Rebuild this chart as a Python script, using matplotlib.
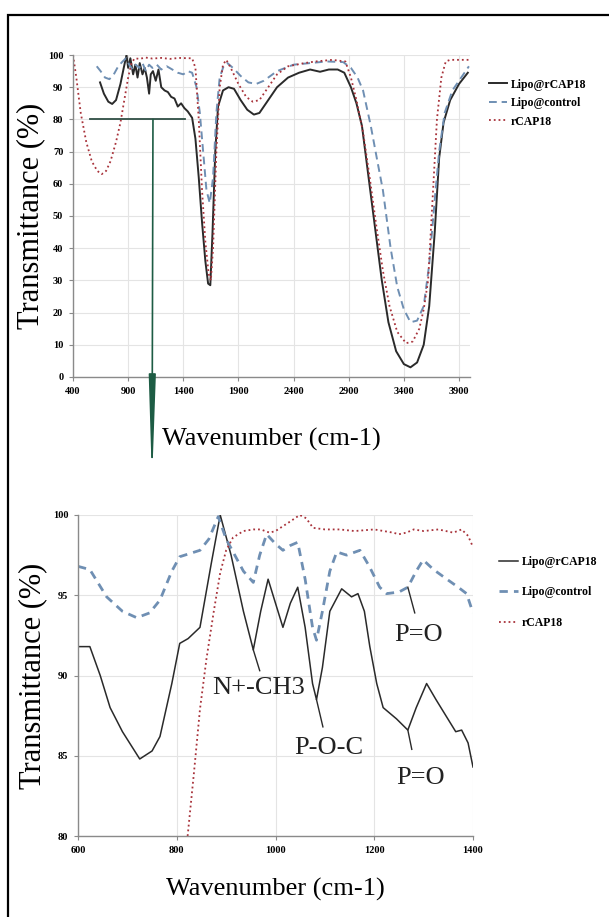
import matplotlib
matplotlib.use('Agg')
import matplotlib.pyplot as plt
from matplotlib.patches import Rectangle

plt.rcParams['font.family'] = ['Liberation Serif', 'DejaVu Serif']

# full spectrum (top panel)
wn_lipo = [645, 680, 720, 755, 790, 830, 860, 885, 900, 920, 945, 965, 985, 1005, 1030, 1050,
           1070, 1090, 1105, 1125, 1150, 1175, 1200, 1230, 1260, 1290, 1320, 1350, 1380, 1410,
           1440, 1480, 1510, 1540, 1570, 1600, 1625, 1645, 1665, 1690, 1715, 1760, 1810, 1860,
           1920, 1980, 2040, 2090, 2150, 2250, 2350, 2450, 2550, 2640, 2720, 2800, 2860, 2920,
           2970, 3020, 3080, 3140, 3200, 3260, 3330, 3400, 3460, 3520, 3580, 3630, 3680, 3720,
           3760, 3820, 3900, 3980]
t_lipo = [91.5, 88, 85.5, 84.8, 86, 91, 96, 100, 96, 99, 94, 97, 93, 97.5, 94, 96,
          93, 88, 94, 95, 92, 95.5, 90, 89, 88.5, 87, 86.5, 84, 85, 83.5,
          82.5, 80.5, 74, 62, 48, 36, 29, 28.5, 45, 70, 84, 89, 90, 89.5,
          86, 83, 81.5, 82, 85, 90, 93, 94.5, 95.5, 94.8, 95.5, 95.5, 94.5, 90,
          85, 78, 62, 46, 30, 17, 8, 4, 3, 4.5, 10, 22, 45, 68,
          79, 86, 91, 94.5]

wn_ctrl = [615, 650, 690, 730, 770, 810, 850, 880, 910, 940, 970, 1000, 1030, 1060, 1090, 1120,
           1160, 1200, 1250, 1300, 1350, 1400, 1440, 1480, 1520, 1550, 1580, 1610, 1640, 1670,
           1700, 1730, 1770, 1800, 1850, 1920, 1990, 2060, 2130, 2250, 2400, 2550, 2700, 2850,
           2920, 2980, 3030, 3100, 3160, 3210, 3280, 3340, 3400, 3460, 3520, 3580, 3630, 3680,
           3720, 3770, 3840, 3920, 3990]
t_ctrl = [96.5, 95, 93, 92.5, 94, 96.5, 98, 99, 97, 95.5, 97, 96, 97.5, 95, 97, 96,
          97, 95.5, 96.5, 95.5, 94.5, 94, 95, 94.5, 90, 82, 70, 58, 54, 62,
          82, 93, 97, 97.5, 96, 93.5, 91.5, 91, 92, 95, 97, 97.5, 98, 97.8,
          96, 93, 89, 78, 67, 58, 40, 28, 21, 17, 17.5, 22, 35, 55,
          70, 82, 89, 93, 96.5]

wn_rcap = [400, 430, 470, 520, 570, 620, 660, 700, 740, 790, 830, 870, 900, 930, 960, 1000,
           1060, 1120, 1200, 1280, 1360, 1440, 1480, 1510, 1540, 1570, 1600, 1630, 1650, 1670,
           1700, 1730, 1760, 1790, 1830, 1900, 1970, 2030, 2090, 2150, 2250, 2350, 2500, 2600,
           2750, 2870, 2920, 2970, 3030, 3090, 3150, 3210, 3270, 3340, 3420, 3480, 3540, 3580,
           3620, 3660, 3700, 3740, 3780, 3820, 3900, 4000]
t_rcap = [100, 93, 82, 73, 67, 64, 63, 64, 67, 73, 79, 87, 93, 97.5, 99, 98.8,
          99.2, 98.9, 99.1, 98.8, 99.1, 99, 99, 96, 80, 58, 42, 32, 30, 40,
          70, 90, 97, 98.5, 96, 91, 87, 85.5, 86, 89, 94, 96.5, 97.5, 98,
          98.5, 98, 93, 86, 76, 62, 47, 33, 22, 14, 10.5, 11, 15, 21,
          30, 55, 80, 93, 98, 98.5, 98.5, 98.5]

# fingerprint region (bottom panel)
wn2_lipo = [600, 624, 645, 665, 690, 725, 750, 766, 790, 806, 823, 847, 870, 888, 910, 935,
            955, 970, 985, 1000, 1015, 1030, 1045, 1060, 1075, 1083, 1095, 1110, 1134, 1154,
            1167, 1180, 1191, 1205, 1218, 1245, 1268, 1285, 1306, 1325, 1347, 1365, 1377,
            1390, 1400]
t2_lipo = [91.8, 91.8, 90, 88, 86.5, 84.8, 85.3, 86.2, 89.5, 92, 92.3, 93, 97, 100, 97.5, 94,
           91.6, 94, 96, 94.5, 93, 94.5, 95.5, 93, 89.5, 88.5, 90.5, 94, 95.4, 94.9,
           95.1, 94, 91.8, 89.5, 88, 87.3, 86.6, 88, 89.5, 88.5, 87.4, 86.5, 86.6,
           85.8, 84.3]

wn2_ctrl = [600, 624, 640, 658, 690, 719, 745, 766, 790, 806, 847, 865, 884, 900, 914, 935,
            955, 968, 982, 1000, 1015, 1030, 1045, 1060, 1075, 1083, 1095, 1110, 1124, 1144,
            1171, 1190, 1211, 1225, 1250, 1268, 1285, 1299, 1320, 1347, 1370, 1387, 1400]
t2_ctrl = [96.8, 96.6, 95.8, 94.9, 94, 93.6, 93.9, 94.7, 96.5, 97.4, 97.8, 98.5, 99.9, 98.5, 97.7, 96.5,
           95.8, 97.5, 98.8, 98.2, 97.8, 98.1, 98.3, 96, 93, 92.2, 94, 96.5, 97.7, 97.5,
           97.8, 96.8, 95.5, 95.1, 95.2, 95.5, 96.5, 97.2, 96.6, 96, 95.5, 95.1, 93.9]

wn2_rcap = [822, 835, 847, 860, 875, 888, 900, 914, 935, 955, 970, 988, 1000, 1015, 1030, 1049,
            1062, 1076, 1100, 1130, 1160, 1200, 1238, 1250, 1265, 1280, 1300, 1330, 1360,
            1377, 1390, 1400]
t2_rcap = [80, 84, 87.9, 91, 94, 96.4, 97.8, 98.6, 99, 99.1, 99.1, 98.9, 99, 99.3, 99.6, 100,
           99.8, 99.2, 99.1, 99.1, 99, 99.1, 98.9, 98.8, 98.9, 99.1, 99, 99.1, 98.9,
           99.1, 98.7, 98]

labels = ['Lipo@rCAP18', 'Lipo@control', 'rCAP18']

c_lipo = '#2a2a2a'
c_ctrl = '#6f8fb3'
c_rcap = '#a8323a'

fig = plt.figure(figsize=(6.09, 9.17), dpi=100)
ax1 = fig.add_axes([0.1199, 0.5889, 0.6519, 0.3511])
ax2 = fig.add_axes([0.1281, 0.0883, 0.6486, 0.3501])

tick_font = dict(fontsize=7.5, fontweight='bold')

# --- top panel
ax1.plot(wn_lipo, t_lipo, color=c_lipo, lw=1.4, label=labels[0])
ax1.plot(wn_ctrl, t_ctrl, color=c_ctrl, lw=1.4, dashes=(4, 2.5), label=labels[1])
ax1.plot(wn_rcap, t_rcap, color=c_rcap, lw=1.3, linestyle=':', label=labels[2])
ax1.set_xlim(400, 4000)
ax1.set_ylim(0, 100)
ax1.set_xticks(range(400, 4000, 500))
ax1.set_yticks(range(0, 101, 10))
ax1.set_xlabel('Wavenumber (cm-1)', fontsize=19, labelpad=23)
ax1.set_ylabel('Transmittance (%)', fontsize=22, labelpad=2)
ax1.legend(loc='upper left', bbox_to_anchor=(1.02, 0.96), frameon=False,
           prop=dict(size=8.5, weight='bold'), handlelength=1.6, handletextpad=0.3,
           labelspacing=0.55)

# zoom marker on the top panel
ax1.plot([555, 1415], [80, 80], color='#2f4f45', lw=1.3)
ax1.annotate('', xy=(0.2496, 0.474), xycoords='figure fraction',
             xytext=(1125, 80), textcoords='data',
             arrowprops=dict(arrowstyle='-|>,head_length=3.0,head_width=0.1',
                             mutation_scale=20, color='#1d5c44', lw=1.2,
                             shrinkA=0, shrinkB=0))

# --- bottom panel
ax2.plot(wn2_lipo, t2_lipo, color=c_lipo, lw=1.1, label=labels[0])
ax2.plot(wn2_ctrl, t2_ctrl, color=c_ctrl, lw=2.0, dashes=(3, 2.2), label=labels[1])
ax2.plot(wn2_rcap, t2_rcap, color=c_rcap, lw=1.3, linestyle=':', label=labels[2])
ax2.set_xlim(600, 1400)
ax2.set_ylim(80, 100)
ax2.set_xticks(range(600, 1401, 200))
ax2.set_yticks(range(80, 101, 5))
ax2.set_xlabel('Wavenumber (cm-1)', fontsize=19, labelpad=17)
ax2.set_ylabel('Transmittance (%)', fontsize=22, labelpad=4)
ax2.legend(loc='upper left', bbox_to_anchor=(1.04, 0.905), frameon=False,
           prop=dict(size=8.5, weight='bold'), handlelength=1.6, handletextpad=0.3,
           labelspacing=1.55)

# peak assignments
ann_font = dict(fontsize=19, color='#222222')
ax2.plot([955, 968], [91.6, 90.3], color=c_lipo, lw=1.0)
ax2.text(871, 89.2, 'N+-CH3', va='center', ha='left', **ann_font)
ax2.plot([1083, 1096], [88.5, 86.8], color=c_lipo, lw=1.0)
ax2.text(1108, 85.5, 'P-O-C', va='center', ha='center', **ann_font)
ax2.plot([1268, 1282], [95.5, 93.9], color=c_lipo, lw=1.0)
ax2.text(1290, 92.5, 'P=O', va='center', ha='center', **ann_font)
ax2.plot([1268, 1276], [86.6, 85.4], color=c_lipo, lw=1.0)
ax2.text(1294, 83.6, 'P=O', va='center', ha='center', **ann_font)

for ax in (ax1, ax2):
    ax.grid(True, color='#e4e4e4', lw=0.8)
    ax.set_axisbelow(True)
    for s in ('top', 'right'):
        ax.spines[s].set_visible(False)
    for s in ('left', 'bottom'):
        ax.spines[s].set_color('#8a8a8a')
        ax.spines[s].set_linewidth(1.0)
    ax.tick_params(direction='out', length=3, width=0.8, color='#8a8a8a', pad=4)
    for lab in ax.get_xticklabels() + ax.get_yticklabels():
        lab.set_fontsize(tick_font['fontsize'])
        lab.set_fontweight(tick_font['fontweight'])

# outer frame
fig.patches.append(Rectangle((8 / 609, -0.05), 1.2, 1 - 15 / 917 + 0.05,
                             transform=fig.transFigure, fill=False,
                             edgecolor='black', lw=1.6))

fig.savefig('out.png', dpi=100)
